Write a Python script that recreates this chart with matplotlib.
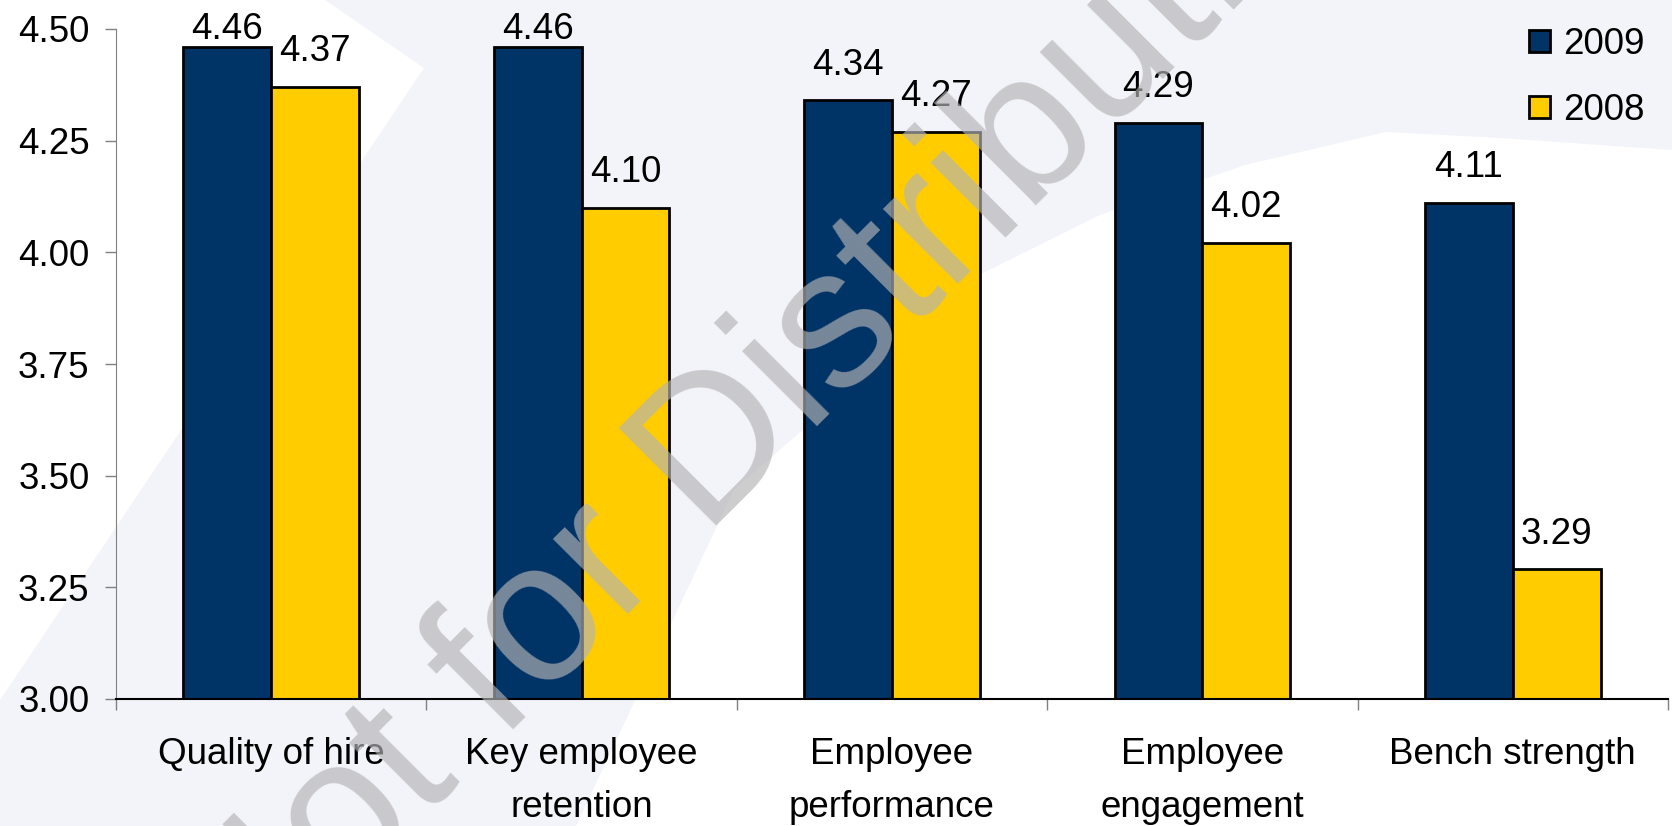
import numpy as np
import matplotlib
matplotlib.use('Agg')
from matplotlib import pyplot as plt, rcParams, ticker
from matplotlib.patches import Polygon, Patch

rcParams.update({'font.family': 'Liberation Sans', 'font.size': 26.5})

categories = ['Quality of hire', 'Key employee\nretention', 'Employee\nperformance',
              'Employee\nengagement', 'Bench strength']
scores_2009 = [4.46, 4.46, 4.34, 4.29, 4.11]
scores_2008 = [4.37, 4.10, 4.27, 4.02, 3.29]
years = ['2009', '2008']

navy = '#003366'
gold = '#FFCC00'
lavender = '#F3F4FA'
W, H = 1672, 826

fig = plt.figure(figsize=(W / 100, H / 100), dpi=100)
fig.patch.set_facecolor(lavender)

# светлые области фона (координаты в пикселях, y вниз)
def bg_poly(pts, color='white'):
    pts = [(x / W, 1 - y / H) for x, y in pts]
    fig.patches.append(Polygon(pts, closed=True, transform=fig.transFigure,
                               facecolor=color, edgecolor='none', zorder=-5))

bg_poly([(0, 0), (325, 0), (424, 68), (0, 700)])
bg_poly([(734, 490), (576, 826), (W, 826), (W, 150), (1500, 138), (1386, 132),
         (1245, 165), (1100, 215), (981, 274)])

ax = fig.add_axes([116 / W, 1 - 699 / H, (1668 - 116) / W, (699 - 29) / H])
ax.set_facecolor('none')

x = np.arange(len(categories))
w = 0.283
ax.bar(x - w / 2, scores_2009, w, color=navy, edgecolor='black', lw=2, zorder=3)
ax.bar(x + w / 2, scores_2008, w, color=gold, edgecolor='black', lw=2, zorder=3)

# подписи значений над столбцами (не выше верхней границы)
for xs, vals in ((x - w / 2, scores_2009), (x + w / 2, scores_2008)):
    for xi, v in zip(xs, vals):
        ax.text(xi, min(v + 0.058, 4.478), '{:.2f}'.format(v), ha='center',
                va='baseline', clip_on=False, zorder=4)

ax.set_xlim(-0.5, len(categories) - 0.5)
ax.set_ylim(3.0, 4.5)
ax.yaxis.set_major_locator(ticker.MultipleLocator(0.25))
ax.yaxis.set_major_formatter(ticker.FormatStrFormatter('%.2f'))
ax.tick_params(axis='y', length=8, width=1, color='#808080', pad=11)

ax.xaxis.set_major_locator(ticker.FixedLocator(np.arange(len(categories) + 1) - 0.5))
ax.xaxis.set_major_formatter(ticker.NullFormatter())
ax.xaxis.set_minor_locator(ticker.FixedLocator(x))
ax.xaxis.set_minor_formatter(ticker.FixedFormatter(categories))
ax.tick_params(axis='x', which='major', length=8, width=1, color='#808080')
ax.tick_params(axis='x', which='minor', length=0, pad=27)
for lbl in ax.get_xticklabels(minor=True):
    lbl.set_linespacing(1.7)
    lbl.set_verticalalignment('top')

for s in ('top', 'right'):
    ax.spines[s].set_visible(False)
ax.spines['left'].set_color('#808080')
ax.spines['bottom'].set_color('black')
ax.spines['bottom'].set_linewidth(1.5)
ax.spines['bottom'].set_zorder(5)

handles = [Patch(facecolor=navy, edgecolor='black', lw=2),
           Patch(facecolor=gold, edgecolor='black', lw=2)]
ax.legend(handles, years, loc='upper right', bbox_to_anchor=(1645 / W, 1 - 27 / H),
          bbox_transform=fig.transFigure, frameon=False, handlelength=0.57,
          handleheight=0.57, handletextpad=0.38, labelspacing=0.84,
          borderpad=0, borderaxespad=0)

fig.text(827 / W, 1 - 415 / H, 'Not for Distribution', rotation=45,
         rotation_mode='anchor', ha='center', va='baseline', fontsize=144,
         color=(180 / 255, 180 / 255, 182 / 255), alpha=0.667, zorder=10)

plt.savefig('out.png', dpi=100, facecolor=fig.get_facecolor())
